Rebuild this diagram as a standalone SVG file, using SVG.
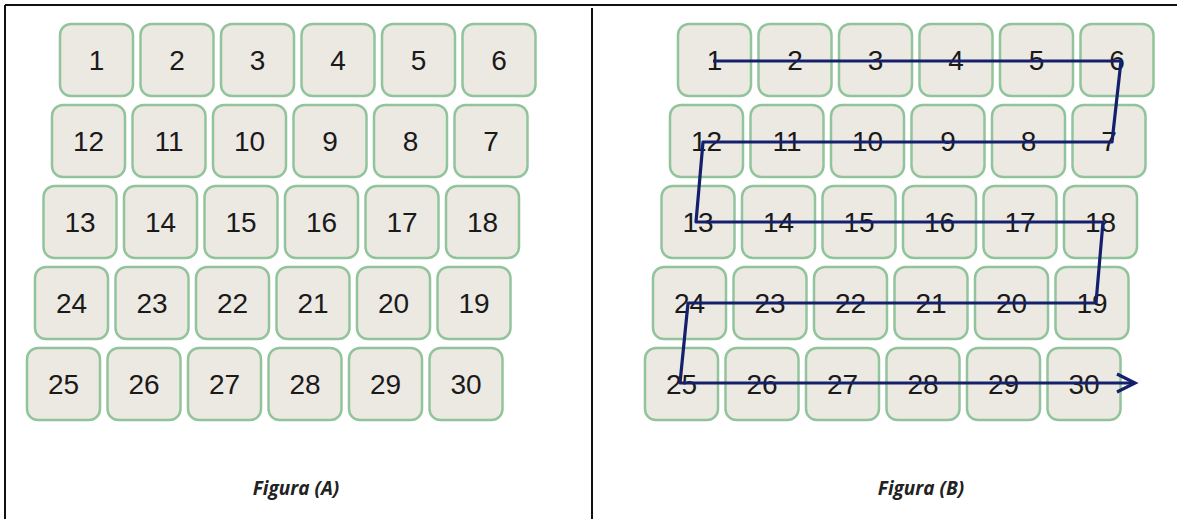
<svg xmlns="http://www.w3.org/2000/svg" width="1177" height="519" viewBox="0 0 1177 519">
<style>
.b rect{fill:#ece9e3;stroke:#92c49c;stroke-width:2.5}
.b text{font-family:"Liberation Sans",Arial,sans-serif;font-size:28px;fill:#1a1a1a;text-anchor:middle}
.cap{font-family:"Open Sans",Lato,sans-serif;font-weight:bold;font-style:italic;font-size:19px;fill:#222;text-anchor:middle}
.frame{stroke:#111;stroke-width:2;fill:none}
</style>
<defs>
<marker id="ah" markerUnits="userSpaceOnUse" markerWidth="24" markerHeight="24" refX="20" refY="10" orient="auto" viewBox="0 0 24 20">
<path d="M2,1 L20,10 L2,19" fill="none" stroke="#14206b" stroke-width="3.2"/>
</marker>
</defs>
<rect width="1177" height="519" fill="#fff"/>
<g id="frame">
<line class="frame" x1="5" y1="5" x2="1177" y2="5"/>
<line class="frame" x1="5" y1="5" x2="5" y2="519"/>
<line class="frame" x1="592" y1="8" x2="592" y2="519"/>
</g>
<g id="figA">
<g id="a1" class="b"><rect x="60" y="24" width="73" height="72" rx="11"/><text x="96.5" y="70">1</text></g>
<g id="a2" class="b"><rect x="140.5" y="24" width="73" height="72" rx="11"/><text x="177" y="70">2</text></g>
<g id="a3" class="b"><rect x="221" y="24" width="73" height="72" rx="11"/><text x="257.5" y="70">3</text></g>
<g id="a4" class="b"><rect x="301.5" y="24" width="73" height="72" rx="11"/><text x="338" y="70">4</text></g>
<g id="a5" class="b"><rect x="382" y="24" width="73" height="72" rx="11"/><text x="418.5" y="70">5</text></g>
<g id="a6" class="b"><rect x="462.5" y="24" width="73" height="72" rx="11"/><text x="499" y="70">6</text></g>
<g id="a12" class="b"><rect x="52" y="105" width="73" height="72" rx="11"/><text x="88.5" y="151">12</text></g>
<g id="a11" class="b"><rect x="132.5" y="105" width="73" height="72" rx="11"/><text x="169" y="151">11</text></g>
<g id="a10" class="b"><rect x="213" y="105" width="73" height="72" rx="11"/><text x="249.5" y="151">10</text></g>
<g id="a9" class="b"><rect x="293.5" y="105" width="73" height="72" rx="11"/><text x="330" y="151">9</text></g>
<g id="a8" class="b"><rect x="374" y="105" width="73" height="72" rx="11"/><text x="410.5" y="151">8</text></g>
<g id="a7" class="b"><rect x="454.5" y="105" width="73" height="72" rx="11"/><text x="491" y="151">7</text></g>
<g id="a13" class="b"><rect x="43.5" y="186" width="73" height="72" rx="11"/><text x="80" y="232">13</text></g>
<g id="a14" class="b"><rect x="124" y="186" width="73" height="72" rx="11"/><text x="160.5" y="232">14</text></g>
<g id="a15" class="b"><rect x="204.5" y="186" width="73" height="72" rx="11"/><text x="241" y="232">15</text></g>
<g id="a16" class="b"><rect x="285" y="186" width="73" height="72" rx="11"/><text x="321.5" y="232">16</text></g>
<g id="a17" class="b"><rect x="365.5" y="186" width="73" height="72" rx="11"/><text x="402" y="232">17</text></g>
<g id="a18" class="b"><rect x="446" y="186" width="73" height="72" rx="11"/><text x="482.5" y="232">18</text></g>
<g id="a24" class="b"><rect x="35" y="267" width="73" height="72" rx="11"/><text x="71.5" y="313">24</text></g>
<g id="a23" class="b"><rect x="115.5" y="267" width="73" height="72" rx="11"/><text x="152" y="313">23</text></g>
<g id="a22" class="b"><rect x="196" y="267" width="73" height="72" rx="11"/><text x="232.5" y="313">22</text></g>
<g id="a21" class="b"><rect x="276.5" y="267" width="73" height="72" rx="11"/><text x="313" y="313">21</text></g>
<g id="a20" class="b"><rect x="357" y="267" width="73" height="72" rx="11"/><text x="393.5" y="313">20</text></g>
<g id="a19" class="b"><rect x="437.5" y="267" width="73" height="72" rx="11"/><text x="474" y="313">19</text></g>
<g id="a25" class="b"><rect x="27" y="348" width="73" height="72" rx="11"/><text x="63.5" y="394">25</text></g>
<g id="a26" class="b"><rect x="107.5" y="348" width="73" height="72" rx="11"/><text x="144" y="394">26</text></g>
<g id="a27" class="b"><rect x="188" y="348" width="73" height="72" rx="11"/><text x="224.5" y="394">27</text></g>
<g id="a28" class="b"><rect x="268.5" y="348" width="73" height="72" rx="11"/><text x="305" y="394">28</text></g>
<g id="a29" class="b"><rect x="349" y="348" width="73" height="72" rx="11"/><text x="385.5" y="394">29</text></g>
<g id="a30" class="b"><rect x="429.5" y="348" width="73" height="72" rx="11"/><text x="466" y="394">30</text></g>
<text class="cap" x="296" y="495">Figura (A)</text>
</g>
<g id="figB">
<g id="b1" class="b"><rect x="678" y="24" width="73" height="72" rx="11"/><text x="714.5" y="70">1</text></g>
<g id="b2" class="b"><rect x="758.5" y="24" width="73" height="72" rx="11"/><text x="795" y="70">2</text></g>
<g id="b3" class="b"><rect x="839" y="24" width="73" height="72" rx="11"/><text x="875.5" y="70">3</text></g>
<g id="b4" class="b"><rect x="919.5" y="24" width="73" height="72" rx="11"/><text x="956" y="70">4</text></g>
<g id="b5" class="b"><rect x="1000" y="24" width="73" height="72" rx="11"/><text x="1036.5" y="70">5</text></g>
<g id="b6" class="b"><rect x="1080.5" y="24" width="73" height="72" rx="11"/><text x="1117" y="70">6</text></g>
<g id="b12" class="b"><rect x="670" y="105" width="73" height="72" rx="11"/><text x="706.5" y="151">12</text></g>
<g id="b11" class="b"><rect x="750.5" y="105" width="73" height="72" rx="11"/><text x="787" y="151">11</text></g>
<g id="b10" class="b"><rect x="831" y="105" width="73" height="72" rx="11"/><text x="867.5" y="151">10</text></g>
<g id="b9" class="b"><rect x="911.5" y="105" width="73" height="72" rx="11"/><text x="948" y="151">9</text></g>
<g id="b8" class="b"><rect x="992" y="105" width="73" height="72" rx="11"/><text x="1028.5" y="151">8</text></g>
<g id="b7" class="b"><rect x="1072.5" y="105" width="73" height="72" rx="11"/><text x="1109" y="151">7</text></g>
<g id="b13" class="b"><rect x="661.5" y="186" width="73" height="72" rx="11"/><text x="698" y="232">13</text></g>
<g id="b14" class="b"><rect x="742" y="186" width="73" height="72" rx="11"/><text x="778.5" y="232">14</text></g>
<g id="b15" class="b"><rect x="822.5" y="186" width="73" height="72" rx="11"/><text x="859" y="232">15</text></g>
<g id="b16" class="b"><rect x="903" y="186" width="73" height="72" rx="11"/><text x="939.5" y="232">16</text></g>
<g id="b17" class="b"><rect x="983.5" y="186" width="73" height="72" rx="11"/><text x="1020" y="232">17</text></g>
<g id="b18" class="b"><rect x="1064" y="186" width="73" height="72" rx="11"/><text x="1100.5" y="232">18</text></g>
<g id="b24" class="b"><rect x="653" y="267" width="73" height="72" rx="11"/><text x="689.5" y="313">24</text></g>
<g id="b23" class="b"><rect x="733.5" y="267" width="73" height="72" rx="11"/><text x="770" y="313">23</text></g>
<g id="b22" class="b"><rect x="814" y="267" width="73" height="72" rx="11"/><text x="850.5" y="313">22</text></g>
<g id="b21" class="b"><rect x="894.5" y="267" width="73" height="72" rx="11"/><text x="931" y="313">21</text></g>
<g id="b20" class="b"><rect x="975" y="267" width="73" height="72" rx="11"/><text x="1011.5" y="313">20</text></g>
<g id="b19" class="b"><rect x="1055.5" y="267" width="73" height="72" rx="11"/><text x="1092" y="313">19</text></g>
<g id="b25" class="b"><rect x="645" y="348" width="73" height="72" rx="11"/><text x="681.5" y="394">25</text></g>
<g id="b26" class="b"><rect x="725.5" y="348" width="73" height="72" rx="11"/><text x="762" y="394">26</text></g>
<g id="b27" class="b"><rect x="806" y="348" width="73" height="72" rx="11"/><text x="842.5" y="394">27</text></g>
<g id="b28" class="b"><rect x="886.5" y="348" width="73" height="72" rx="11"/><text x="923" y="394">28</text></g>
<g id="b29" class="b"><rect x="967" y="348" width="73" height="72" rx="11"/><text x="1003.5" y="394">29</text></g>
<g id="b30" class="b"><rect x="1047.5" y="348" width="73" height="72" rx="11"/><text x="1084" y="394">30</text></g>
<text class="cap" x="921" y="495">Figura (B)</text>
</g>
<g id="connectors">
<path d="M713,61 H1121 L1112,142 H703 L696,222 H1103 L1096,303 H688 L680,383 H1135" fill="none" stroke="#14206b" stroke-width="3.2" stroke-linejoin="round" marker-end="url(#ah)"/>
</g>
</svg>
